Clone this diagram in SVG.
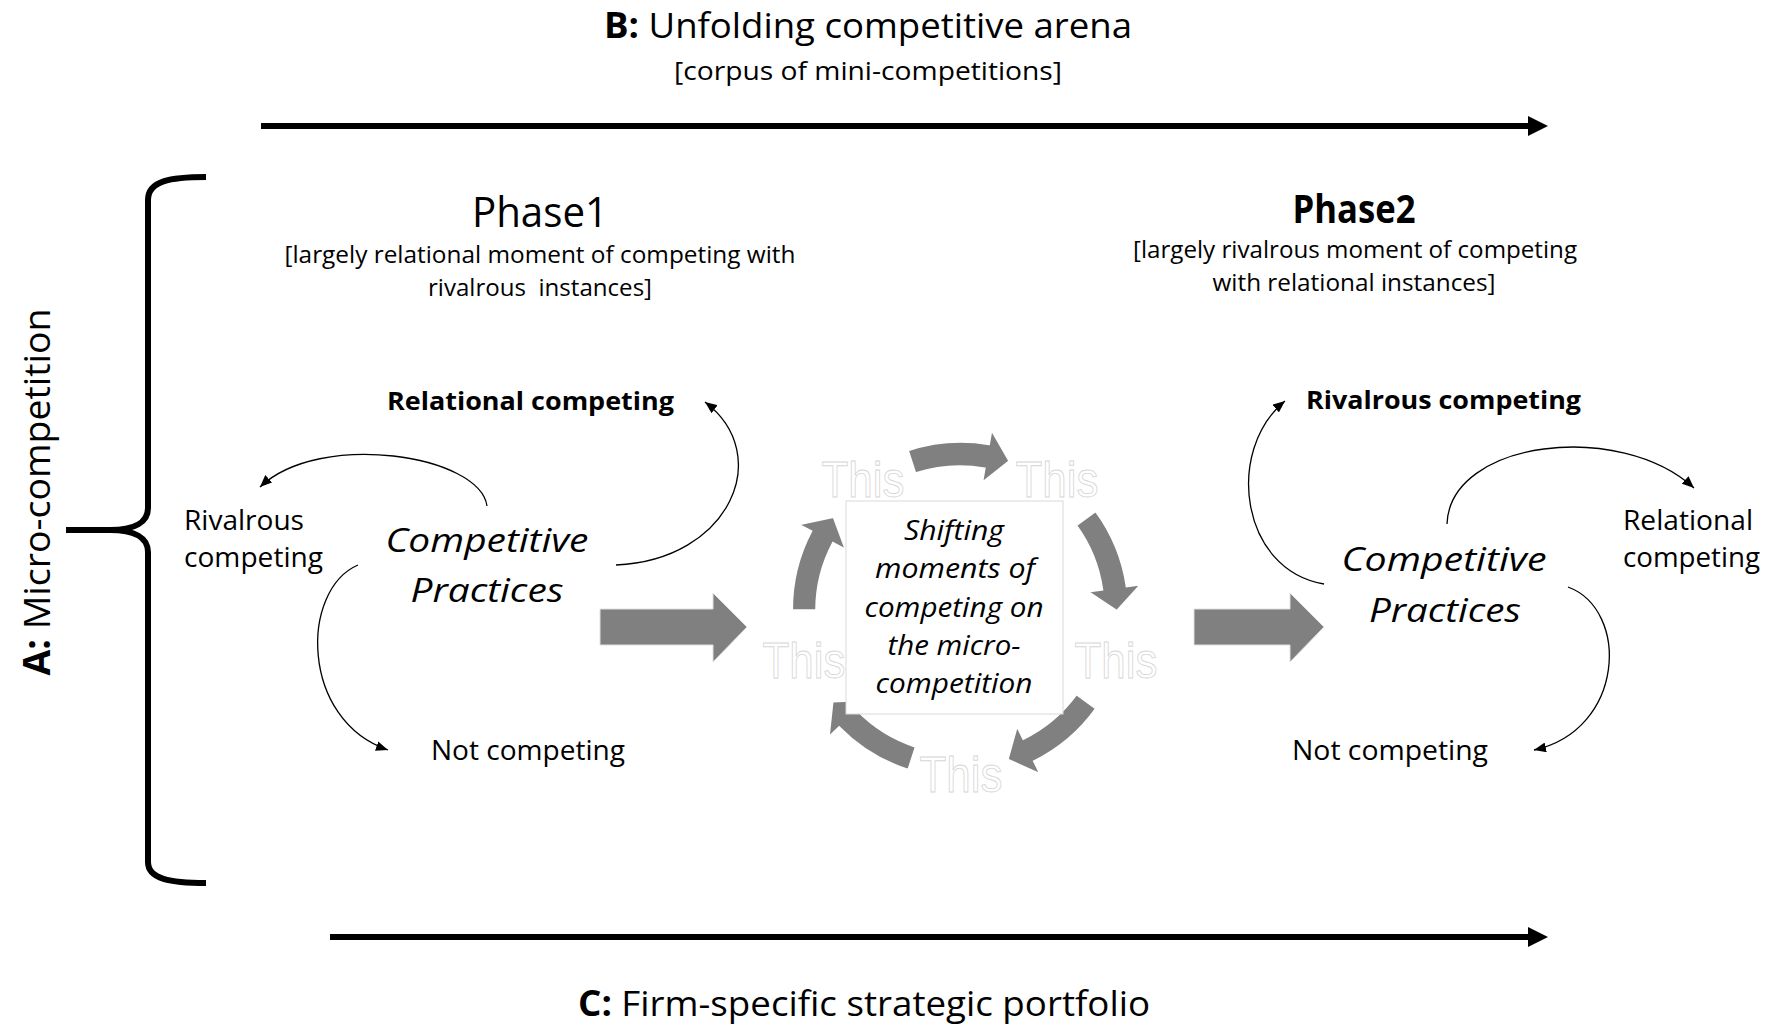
<svg xmlns="http://www.w3.org/2000/svg" width="1771" height="1026" viewBox="0 0 1771 1026">
<style>
text{font-family:"Open Sans","Liberation Sans",sans-serif;fill:#000}
.t35{font-size:35px}
.t25{font-size:25px}
.br{font-size:23px}
.lbl{font-size:27px}
.bl{font-size:25px;font-weight:bold}
.cp{font-size:33px;font-style:italic}
.ctr{font-size:27px;font-style:italic}
.this{font-family:"Liberation Sans",sans-serif;font-size:50px;fill:#fff;stroke:#d6d6d6;stroke-width:0.9}
.thin{fill:none;stroke:#000;stroke-width:1.3;marker-end:url(#ah)}
.block{fill:#808080;stroke:#e0e0e0;stroke-width:1}
.cyc{fill:#808080;stroke:#fff;stroke-width:1.5}
</style>
<defs>
<marker id="ah" markerUnits="userSpaceOnUse" markerWidth="13" markerHeight="10" refX="12" refY="5" orient="auto">
<path d="M0,0 L12,5 L0,10 Z" fill="#000"/>
</marker>
<path id="cycArrow" d="M908.2,450.5 A168,168 0 0 1 989.2,444.5 L991.6,430.7 L1009.0,461.0 L982.5,482.0 L984.9,468.2 A144,144 0 0 0 915.5,473.0 Z"/>
</defs>
<rect width="1771" height="1026" fill="#fff"/>

<g id="title-B">
<text class="t35" x="868" y="38" text-anchor="middle" textLength="528" lengthAdjust="spacingAndGlyphs"><tspan font-weight="bold">B:</tspan> Unfolding competitive arena</text>
<text class="t25" x="868" y="80" text-anchor="middle" textLength="388" lengthAdjust="spacingAndGlyphs">[corpus of mini-competitions]</text>
</g>

<g id="title-C">
<text class="t35" x="864" y="1016" text-anchor="middle" textLength="572" lengthAdjust="spacingAndGlyphs"><tspan font-weight="bold">C:</tspan> Firm-specific strategic portfolio</text>
</g>

<g id="title-A">
<text font-size="37" transform="translate(50,492) rotate(-90)" text-anchor="middle" textLength="367" lengthAdjust="spacingAndGlyphs"><tspan font-weight="bold">A:</tspan> Micro-competition</text>
</g>

<g id="brace">
<path d="M206,177 C170,177 148,181 148,200 L148,508 C148,522 135,530 110,530 L66,530 M110,530 C135,530 148,538 148,552 L148,862 C148,879 170,883 206,883" fill="none" stroke="#000" stroke-width="6"/>
</g>

<g id="phase1">
<text x="540" y="227" font-size="42" text-anchor="middle" textLength="136" lengthAdjust="spacingAndGlyphs">Phase1</text>
<text class="br" x="540" y="263" text-anchor="middle" textLength="511" lengthAdjust="spacingAndGlyphs">[largely relational moment of competing with</text>
<text class="br" x="540" y="296" text-anchor="middle" textLength="224" lengthAdjust="spacingAndGlyphs" style="white-space:pre">rivalrous  instances]</text>
</g>

<g id="phase2">
<text x="1354" y="223" font-size="40" font-weight="bold" text-anchor="middle" textLength="123" lengthAdjust="spacingAndGlyphs">Phase2</text>
<text class="br" x="1355" y="258" text-anchor="middle" textLength="444" lengthAdjust="spacingAndGlyphs">[largely rivalrous moment of competing</text>
<text class="br" x="1354" y="291" text-anchor="middle" textLength="283" lengthAdjust="spacingAndGlyphs">with relational instances]</text>
</g>

<g id="p1-practices">
<text class="cp" x="487" y="552" text-anchor="middle" textLength="203" lengthAdjust="spacingAndGlyphs">Competitive</text>
<text class="cp" x="487" y="602" text-anchor="middle" textLength="153" lengthAdjust="spacingAndGlyphs">Practices</text>
</g>
<g id="p1-relational">
<text class="bl" x="387" y="410" textLength="287" lengthAdjust="spacingAndGlyphs">Relational competing</text>
</g>
<g id="p1-rivalrous">
<text class="lbl" x="184" y="530" textLength="120" lengthAdjust="spacingAndGlyphs">Rivalrous</text>
<text class="lbl" x="184" y="567" textLength="139" lengthAdjust="spacingAndGlyphs">competing</text>
</g>
<g id="p1-not">
<text class="lbl" x="431" y="760" textLength="194" lengthAdjust="spacingAndGlyphs">Not competing</text>
</g>

<g id="p2-practices">
<text class="cp" x="1444" y="571" text-anchor="middle" textLength="205" lengthAdjust="spacingAndGlyphs">Competitive</text>
<text class="cp" x="1445" y="622" text-anchor="middle" textLength="152" lengthAdjust="spacingAndGlyphs">Practices</text>
</g>
<g id="p2-rivalrous">
<text class="bl" x="1306" y="409" textLength="275" lengthAdjust="spacingAndGlyphs">Rivalrous competing</text>
</g>
<g id="p2-relational">
<text class="lbl" x="1623" y="530" textLength="130" lengthAdjust="spacingAndGlyphs">Relational</text>
<text class="lbl" x="1623" y="567" textLength="137" lengthAdjust="spacingAndGlyphs">competing</text>
</g>
<g id="p2-not">
<text class="lbl" x="1292" y="760" textLength="196" lengthAdjust="spacingAndGlyphs">Not competing</text>
</g>

<g id="cycle">
<use href="#cycArrow" class="cyc"/>
<use href="#cycArrow" class="cyc" transform="rotate(72 960 610)"/>
<use href="#cycArrow" class="cyc" transform="rotate(144 960 610)"/>
<use href="#cycArrow" class="cyc" transform="rotate(216 960 610)"/>
<use href="#cycArrow" class="cyc" transform="rotate(288 960 610)"/>
<text class="this" x="863" y="497" text-anchor="middle" textLength="83" lengthAdjust="spacingAndGlyphs">This</text>
<text class="this" x="1057" y="497" text-anchor="middle" textLength="83" lengthAdjust="spacingAndGlyphs">This</text>
<text class="this" x="1116" y="678" text-anchor="middle" textLength="83" lengthAdjust="spacingAndGlyphs">This</text>
<text class="this" x="961" y="792" text-anchor="middle" textLength="83" lengthAdjust="spacingAndGlyphs">This</text>
<text class="this" x="804" y="678" text-anchor="middle" textLength="83" lengthAdjust="spacingAndGlyphs">This</text>
</g>

<g id="center-box">
<rect x="846" y="501" width="217" height="213" fill="#fff" stroke="#d9d9d9" stroke-width="1"/>
<text class="ctr" x="954" y="540" text-anchor="middle" textLength="100" lengthAdjust="spacingAndGlyphs">Shifting</text>
<text class="ctr" x="955" y="578" text-anchor="middle" textLength="160" lengthAdjust="spacingAndGlyphs">moments of</text>
<text class="ctr" x="954" y="617" text-anchor="middle" textLength="179" lengthAdjust="spacingAndGlyphs">competing on</text>
<text class="ctr" x="954" y="655" text-anchor="middle" textLength="133" lengthAdjust="spacingAndGlyphs">the micro-</text>
<text class="ctr" x="954" y="693" text-anchor="middle" textLength="157" lengthAdjust="spacingAndGlyphs">competition</text>
</g>

<g id="connectors">
<line x1="261" y1="126" x2="1530" y2="126" stroke="#000" stroke-width="6"/>
<polygon points="1528,116 1548,126 1528,136" fill="#000"/>
<line x1="330" y1="937" x2="1530" y2="937" stroke="#000" stroke-width="6"/>
<polygon points="1528,927 1548,937 1528,947" fill="#000"/>
<path class="block" d="M600,609 L713,609 L713,593 L747,627 L713,662 L713,645 L600,645 Z"/>
<path class="block" d="M1194,609 L1290,609 L1290,593 L1324,627 L1290,662 L1290,645 L1194,645 Z"/>
<path class="thin" d="M487,506 C480,455 320,430 260,487"/>
<path class="thin" d="M616,565 C730,560 775,455 705,402"/>
<path class="thin" d="M358,565 C300,590 300,720 388,750"/>
<path class="thin" d="M1324,584 C1240,570 1225,450 1285,401"/>
<path class="thin" d="M1447,524 C1450,440 1620,420 1694,488"/>
<path class="thin" d="M1568,587 C1630,610 1625,730 1534,750"/>
</g>
</svg>
